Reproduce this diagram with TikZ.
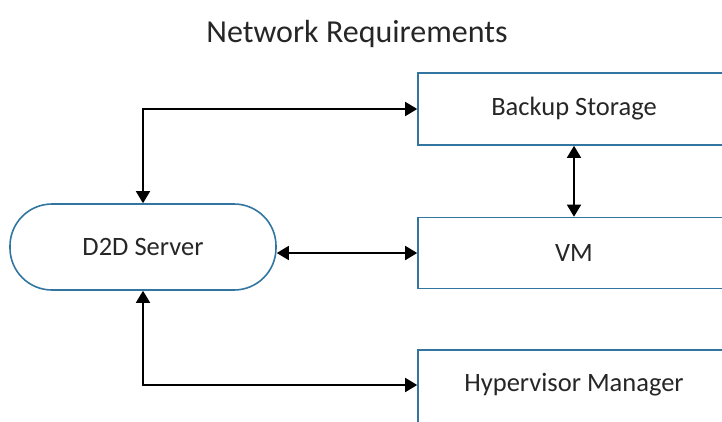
\documentclass[tikz,border=0pt]{standalone}
\usepackage{fontspec}
\setmainfont{Carlito}
\usetikzlibrary{arrows.meta}
\definecolor{boxblue}{RGB}{49,117,160}
\definecolor{txt}{RGB}{38,38,38}
\tikzset{
  boxnode/.style={draw=boxblue, line width=1.6pt, rectangle, minimum width=312pt, text=txt,
    font=\fontsize{26.5}{30}\selectfont, inner sep=0pt},
  pill/.style={draw=boxblue, line width=1.6pt, rectangle, rounded corners=42pt, minimum width=266pt,
    minimum height=86pt, text=txt, font=\fontsize{26.5}{30}\selectfont, inner sep=0pt},
  link/.style={line width=1.7pt, black, {Triangle[length=12pt,width=14pt]}-{Triangle[length=12pt,width=14pt]}}
}
\begin{document}
\begin{tikzpicture}[x=1pt,y=-1pt]
\useasboundingbox (0,0) rectangle (722,421);
\clip (0,0) rectangle (722,421);
\node[anchor=base, text=txt, font=\fontsize{32}{36}\selectfont] (title) at (357,42) {Network Requirements};
\node[boxnode, minimum height=72pt] (backup) at (574,109) {Backup Storage};
\node[boxnode, minimum height=71pt] (vm) at (574,253) {VM};
\node[boxnode, minimum height=78pt, text depth=0pt] (hyper) at (574,389) {};
\node[text=txt, font=\fontsize{26.5}{30}\selectfont, inner sep=0pt] (hyperlabel) at (574,385) {Hypervisor Manager};
\node[pill] (d2d) at (143,247) {D2D Server};
\draw[link] (d2d.north) |- (backup.west);
\draw[link] (backup.south) -- (vm.north);
\draw[link] (vm.west -| d2d.east) -- (vm.west);
\draw[link] (d2d.south) |- (hyperlabel.west -| hyper.west);
\end{tikzpicture}
\end{document}
